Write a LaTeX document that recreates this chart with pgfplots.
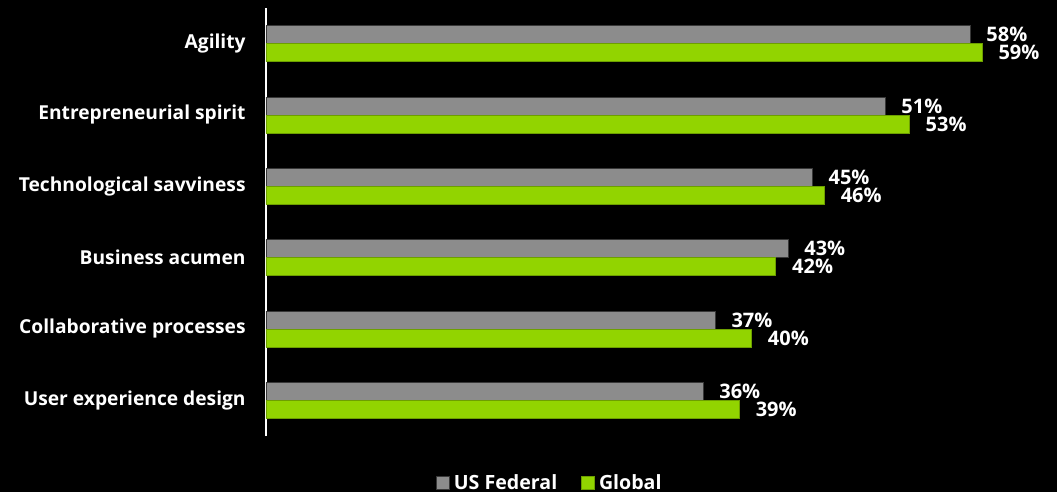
\documentclass[border=0pt]{standalone}
\usepackage{pgfplots}
\pgfplotsset{compat=1.18}
\usepackage{fontspec}
\setmainfont{Open Sans}
\usetikzlibrary{backgrounds}
\definecolor{fedgray}{HTML}{8C8C8C}
\definecolor{glgreen}{HTML}{92D400}
\begin{document}
\begin{tikzpicture}
\begin{axis}[
  name=ax,
  scale only axis,
  width=394.5pt, height=214pt,
  xmin=0, xmax=65,
  ymin=-0.5, ymax=5.5,
  xbar,
  bar width=9pt,
  axis x line=none,
  axis y line*=left,
  y axis line style={white, line width=1pt, -},
  ytick={0,1,2,3,4,5},
  yticklabels={User experience design, Collaborative processes, Business acumen, Technological savviness, Entrepreneurial spirit, Agility},
  major tick length=0pt,
  yticklabel style={font=\bfseries\fontsize{9.6}{10}\selectfont, text=white, inner sep=0pt, anchor=east, xshift=-10pt},
  /pgf/number format/assume math mode=true,
  nodes near coords={\pgfmathprintnumber{\pgfplotspointmeta}\%},
  point meta=x,
  nodes near coords style={font=\bfseries\fontsize{10}{10}\selectfont, text=white, anchor=west, inner sep=0pt, xshift=8pt},
  legend style={at={(0.361,-0.11)}, anchor=center, legend columns=2, draw=none, fill=none,
    text=white, font=\bfseries\fontsize{9.8}{10}\selectfont,
    /tikz/every even column/.append style={column sep=10pt}},
  legend cell align=left,
  legend image code/.code={\fill[#1] (0pt,-3.25pt) rectangle (6.5pt,3.25pt);},
]
\addplot[fill=fedgray, draw=black!60!fedgray, line width=0.4pt, bar shift=4.5pt] coordinates {
 (36,0) (37,1) (43,2) (45,3) (51,4) (58,5)};
\addlegendentry{US Federal}
\addplot[fill=glgreen, draw=black!25!glgreen, line width=0.4pt, bar shift=-4.5pt] coordinates {
 (39,0) (40,1) (42,2) (46,3) (53,4) (59,5)};
\addlegendentry{Global}
\end{axis}
\pgfresetboundingbox
\path ([xshift=-133pt,yshift=-28pt]ax.south west) rectangle ([xshift=1pt,yshift=4pt]ax.north east);
\begin{scope}[on background layer]
\fill[black] ([xshift=-133pt,yshift=-28pt]ax.south west) rectangle ([xshift=1pt,yshift=4pt]ax.north east);
\end{scope}
\end{tikzpicture}
\end{document}
